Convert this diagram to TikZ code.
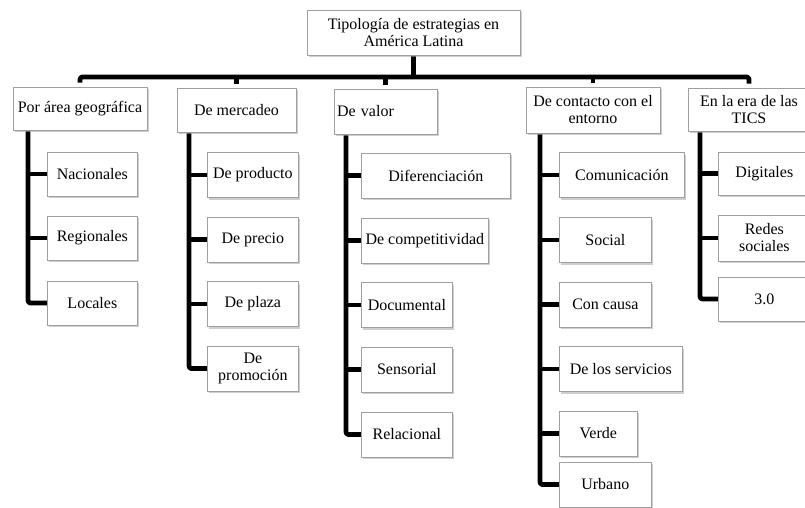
\documentclass[tikz,border=0pt]{standalone}
\usepackage{fontspec}
\setmainfont{Liberation Serif}
\usetikzlibrary{shadows,backgrounds}
\tikzset{
  box/.style={draw=gray!75, line width=0.7pt, fill=white, inner sep=0pt,
    align=center, font=\fontsize{16}{17}\selectfont,
    drop shadow={shadow xshift=1.6pt, shadow yshift=-2.2pt, fill=gray!70, opacity=0.55}},
  kid/.style={box, anchor=west, minimum height=45},
  conn/.style={line width=4.8pt, line join=round, rounded corners=2.5pt}
}
\begin{document}
\begin{tikzpicture}[x=1pt,y=-1pt]
\clip (0,0) rectangle (805,508);
\useasboundingbox (0,0) rectangle (805,508);
% root and level 1
\node[box, minimum width=213, minimum height=45] (root) at (413.5,32.5) {Tipología de estrategias en\\América Latina};
\node[box, minimum width=134, minimum height=43] (p1) at (80,108.5) {Por área geográfica};
\node[box, minimum width=119, minimum height=44] (p2) at (236.5,110) {De mercadeo};
\node[box, minimum width=103, minimum height=45, text width=97, align=left] (p3) at (385.5,111.5) {De valor};
\node[box, minimum width=134, minimum height=46] (p4) at (593,110) {De contacto con el\\entorno};
\node[box, minimum width=122, minimum height=43] (p5) at (749,109.5) {En la era de las\\TICS};
% column 1
\node[kid, minimum width=90, minimum height=44] (a1) at (47,174) {Nacionales};
\node[kid, minimum width=90, minimum height=44] (a2) at (47,238) {Regionales};
\node[kid, minimum width=90, minimum height=44] (a3) at (47,303) {Locales};
% column 2
\node[kid, minimum width=91] (b1) at (207,175) {De producto};
\node[kid, minimum width=91] (b2) at (207,239.5) {De precio};
\node[kid, minimum width=91] (b3) at (207,304) {De plaza};
\node[kid, minimum width=91] (b4) at (207,368.5) {De\\promoción};
% column 3
\node[kid, minimum width=149] (c1) at (361,175.5) {Diferenciación};
\node[kid, minimum width=127] (c2) at (361,240.5) {De competitividad};
\node[kid, minimum width=91] (c3) at (361,305) {Documental};
\node[kid, minimum width=91] (c4) at (361,369.5) {Sensorial};
\node[kid, minimum width=91] (c5) at (361,434.5) {Relacional};
% column 4
\node[kid, minimum width=125] (d1) at (559,175) {Comunicación};
\node[kid, minimum width=92] (d2) at (559,240) {Social};
\node[kid, minimum width=92] (d3) at (559,304.5) {Con causa};
\node[kid, minimum width=123] (d4) at (559,369) {De los servicios};
\node[kid, minimum width=78] (d5) at (559,433.5) {Verde};
\node[kid, minimum width=92] (d6) at (559,484.5) {Urbano};
% column 5
\node[kid, minimum width=92, minimum height=43] (e1) at (718,173.5) {Digitales};
\node[kid, minimum width=92, minimum height=46] (e2) at (718,238) {Redes\\sociales};
\node[kid, minimum width=92, minimum height=44] (e3) at (718,299) {3.0};
% connectors
\coordinate (bus) at (413.5,77);
\coordinate (v1) at (28,125);
\coordinate (v2) at (189,125);
\coordinate (v3) at (346,125);
\coordinate (v4) at (540,125);
\coordinate (v5) at (700,125);
\begin{scope}[on background layer]
\draw[conn] (root.south) -- (bus);
\draw[conn] ([yshift=4pt]p1.north) |- (bus) -| ([yshift=4pt]p5.north);
\draw[conn] ([yshift=4pt]p2.north) -- (p2.north |- bus);
\draw[conn] ([yshift=4pt]p3.north) -- (p3.north |- bus);
\draw[conn] ([yshift=4pt]p4.north) -- (p4.north |- bus);
% col 1
\draw[conn] (v1) |- ([xshift=3pt]a3.west);
\draw[conn] ([xshift=3pt]a1.west) -- (a1.west -| v1);
\draw[conn] ([xshift=3pt]a2.west) -- (a2.west -| v1);
% col 2
\draw[conn] (v2) |- ([xshift=3pt]b4.west);
\foreach \n in {b1,b2,b3} \draw[conn] ([xshift=3pt]\n.west) -- (\n.west -| v2);
% col 3
\draw[conn] (v3) |- ([xshift=3pt]c5.west);
\foreach \n in {c1,c2,c3,c4} \draw[conn] ([xshift=3pt]\n.west) -- (\n.west -| v3);
% col 4
\draw[conn] (v4) |- ([xshift=3pt]d6.west);
\foreach \n in {d1,d2,d3,d4,d5} \draw[conn] ([xshift=3pt]\n.west) -- (\n.west -| v4);
% col 5
\draw[conn] (v5) |- ([xshift=3pt]e3.west);
\foreach \n in {e1,e2} \draw[conn] ([xshift=3pt]\n.west) -- (\n.west -| v5);
\end{scope}
\end{tikzpicture}
\end{document}
